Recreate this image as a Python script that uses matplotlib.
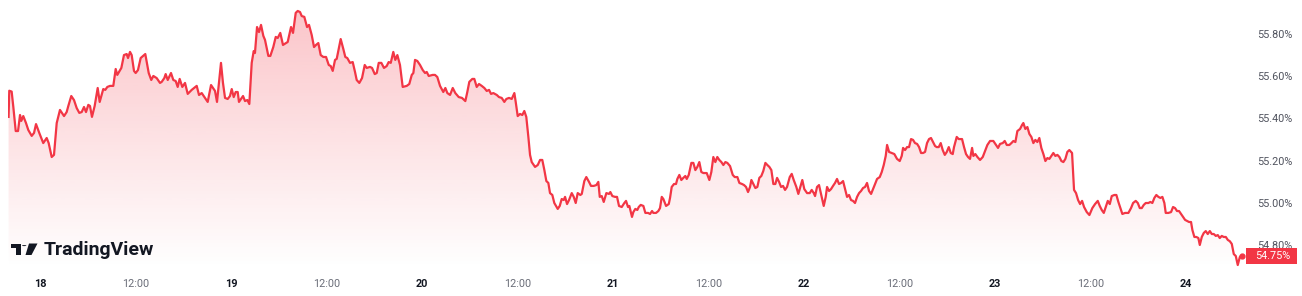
import matplotlib
matplotlib.use("Agg")
import matplotlib.pyplot as plt
import numpy as np
from matplotlib.patches import Polygon, Circle, Rectangle
from matplotlib.colors import to_rgb

# hours since 18th 00:00, yield in percent
seg1_h = [-3.95, -3.86, -3.56, -3.35, -3.05, -2.76, -2.51, -2.35, -2.10, -1.76,
          -1.47, -1.04, -0.75, -0.50, -0.09, 0.41, 0.84, 1.09, 1.47, 1.76,
          2.10, 2.51, 3.02, 3.35, 3.56, 3.93, 4.27, 4.61, 4.94, 5.24,
          5.53, 5.78, 6.07, 6.28, 6.53, 6.87, 7.25, 7.50, 7.95, 8.20,
          8.46, 8.80, 9.21, 9.51, 9.71, 10.22, 10.55, 10.89, 11.06, 11.31,
          11.52, 11.81, 12.02, 12.31, 12.65, 13.23, 13.66, 13.98, 14.24, 14.66, 15.08]
seg1_v = [55.407, 55.531, 55.527, 55.454, 55.340, 55.340, 55.416, 55.388, 55.411, 55.378,
          55.345, 55.317, 55.331, 55.373, 55.331, 55.283, 55.307, 55.283, 55.217, 55.227,
          55.378, 55.440, 55.411, 55.430, 55.459, 55.506, 55.487, 55.449, 55.426, 55.430,
          55.454, 55.430, 55.464, 55.459, 55.407, 55.459, 55.544, 55.478, 55.539, 55.535,
          55.549, 55.554, 55.554, 55.634, 55.606, 55.639, 55.700, 55.705, 55.686, 55.715,
          55.700, 55.625, 55.615, 55.629, 55.686, 55.705, 55.615, 55.582, 55.601, 55.591, 55.568]

seg2_h = [15.29, 15.62, 15.79, 16.05, 16.46, 16.75, 17.05, 17.30, 17.55, 17.88,
          18.22, 18.56, 19.06, 19.69, 19.98, 20.32, 20.73, 21.07, 21.49, 21.99,
          22.24, 22.74, 22.99, 23.25, 23.58, 23.87, 24.09, 24.34, 24.59, 24.84,
          25.00, 25.26, 25.51, 25.76, 26.05, 26.30, 26.60, 26.85, 27.01, 27.27,
          27.52, 27.77, 28.06, 28.27, 28.69, 28.94, 29.31, 29.62, 29.87, 30.19,
          30.53, 31.12, 31.54, 31.79, 32.13, 32.38, 32.67, 32.88, 33.21, 33.55,
          33.80, 34.14, 34.43]
seg2_v = [55.573, 55.591, 55.610, 55.582, 55.615, 55.582, 55.577, 55.549, 55.587, 55.549,
          55.568, 55.516, 55.535, 55.554, 55.511, 55.520, 55.497, 55.478, 55.558, 55.530,
          55.478, 55.663, 55.568, 55.497, 55.492, 55.506, 55.539, 55.501, 55.525, 55.525,
          55.478, 55.492, 55.506, 55.482, 55.487, 55.468, 55.663, 55.719, 55.710, 55.833,
          55.809, 55.843, 55.791, 55.772, 55.696, 55.696, 55.738, 55.786, 55.781, 55.805,
          55.748, 55.762, 55.833, 55.805, 55.900, 55.909, 55.904, 55.885, 55.881, 55.833,
          55.843, 55.795, 55.738]

seg3_h = [34.68, 34.97, 35.27, 35.60, 35.94, 36.28, 36.53, 36.78, 37.07, 37.28,
          37.78, 38.11, 38.36, 38.61, 38.95, 39.29, 39.58, 39.79, 40.12, 40.46,
          40.80, 41.05, 41.46, 41.72, 42.06, 42.31, 42.56, 42.89, 43.22, 43.56,
          43.81, 44.07, 44.39, 44.64, 44.90, 45.23, 45.57, 46.08, 46.40, 46.71,
          46.91, 47.12, 47.41, 47.75, 48.09, 48.38, 48.59, 48.84, 49.34, 49.63,
          49.92, 50.26, 50.67, 50.93, 51.18, 51.52, 51.86, 52.18, 52.61, 53.02,
          53.44, 53.69, 53.94]
seg3_v = [55.748, 55.757, 55.700, 55.691, 55.691, 55.653, 55.648, 55.625, 55.677, 55.682,
          55.776, 55.729, 55.691, 55.686, 55.663, 55.667, 55.620, 55.582, 55.568, 55.591,
          55.653, 55.639, 55.644, 55.639, 55.610, 55.615, 55.663, 55.663, 55.639, 55.648,
          55.667, 55.663, 55.715, 55.677, 55.700, 55.653, 55.549, 55.554, 55.563, 55.606,
          55.615, 55.677, 55.672, 55.653, 55.629, 55.615, 55.620, 55.601, 55.606, 55.606,
          55.596, 55.554, 55.525, 55.544, 55.520, 55.511, 55.544, 55.520, 55.501, 55.497,
          55.482, 55.525, 55.573]

seg4_h = [54.32, 54.57, 54.87, 55.16, 55.50, 55.83, 56.13, 56.42, 56.67, 56.96,
          57.39, 57.67, 58.01, 58.34, 58.59, 58.93, 59.27, 59.60, 59.77, 60.02,
          60.31, 60.60, 60.85, 61.10, 61.36, 61.57, 61.78, 62.20, 62.54, 62.83,
          63.11, 63.37, 63.62, 63.87, 64.08, 64.37, 64.62, 65.05, 65.30, 65.55,
          65.80, 65.97, 66.22, 66.47, 66.81, 67.06, 67.31, 67.56, 67.89, 68.07,
          68.39, 68.64, 68.98, 69.23, 69.57, 69.90, 70.15, 70.33, 70.58, 70.83,
          71.16, 71.49, 71.66, 71.91, 72.25, 72.50, 72.75, 73.09, 73.42]
seg4_v = [55.587, 55.587, 55.549, 55.563, 55.554, 55.544, 55.530, 55.535, 55.516, 55.520,
          55.511, 55.501, 55.497, 55.478, 55.492, 55.497, 55.492, 55.520, 55.478, 55.411,
          55.421, 55.416, 55.435, 55.407, 55.312, 55.227, 55.193, 55.170, 55.179, 55.203,
          55.203, 55.155, 55.103, 55.094, 55.046, 55.037, 54.999, 54.971, 54.985, 55.018,
          55.013, 55.028, 54.994, 55.013, 55.046, 55.028, 54.999, 55.046, 55.037, 55.042,
          55.103, 55.122, 55.099, 55.080, 55.080, 55.084, 55.099, 55.028, 55.032, 55.004,
          55.046, 55.042, 55.051, 55.032, 55.028, 55.028, 54.985, 54.980, 54.999]

seg5_h = [73.63, 73.88, 74.05, 74.38, 74.55, 74.80, 75.05, 75.23, 75.48, 75.81,
          76.06, 76.40, 76.65, 76.90, 77.06, 77.40, 77.69, 77.90, 78.12, 78.32,
          78.66, 79.00, 79.16, 79.37, 79.66, 79.91, 80.08, 80.33, 80.58, 80.83,
          81.08, 81.26, 81.51, 81.84, 82.09, 82.34, 82.59, 82.84, 83.09, 83.35,
          83.77, 84.10, 84.35, 84.60, 84.85, 85.10, 85.35, 85.61, 85.86, 86.11,
          86.36, 86.70, 87.04, 87.29, 87.62, 87.87, 88.21, 88.46, 88.71, 88.96,
          89.21, 89.38, 89.63, 89.88, 90.13, 90.38, 90.63, 90.88, 91.14, 91.39,
          91.64, 91.89, 92.14, 92.39]
seg5_v = [55.009, 54.980, 54.985, 54.933, 54.956, 54.971, 54.966, 54.980, 54.990, 54.985,
          54.952, 54.952, 54.947, 54.961, 54.952, 54.952, 54.961, 54.975, 55.028, 55.018,
          54.985, 54.994, 55.023, 55.075, 55.089, 55.089, 55.113, 55.132, 55.108, 55.118,
          55.127, 55.113, 55.132, 55.189, 55.189, 55.155, 55.170, 55.193, 55.146, 55.141,
          55.141, 55.108, 55.146, 55.217, 55.193, 55.217, 55.203, 55.193, 55.179, 55.193,
          55.189, 55.174, 55.132, 55.122, 55.122, 55.094, 55.089, 55.084, 55.075, 55.051,
          55.075, 55.108, 55.089, 55.070, 55.075, 55.118, 55.127, 55.151, 55.189, 55.179,
          55.170, 55.155, 55.089, 55.089]

seg6_h = [92.61, 92.86, 93.11, 93.36, 93.61, 93.86, 94.20, 94.45, 94.70, 95.03,
          95.28, 95.53, 95.78, 96.03, 96.38, 96.71, 96.96, 97.22, 97.38, 97.63,
          97.88, 98.22, 98.47, 98.72, 98.89, 99.14, 99.39, 99.64, 99.89, 100.14,
          100.39, 100.65, 100.90, 101.15, 101.40, 101.65, 101.90, 102.15, 102.40, 102.66,
          102.91, 103.16, 103.41, 103.66, 103.91, 104.16, 104.42, 104.67, 104.92, 105.17,
          105.51, 105.76, 106.01, 106.26, 106.43, 106.68, 107.02, 107.34, 107.68, 108.02,
          108.27, 108.44, 108.69, 108.94, 109.19, 109.44, 109.69, 109.94, 110.20, 110.45,
          110.70, 110.95, 111.20, 111.45, 111.70, 111.95, 112.21, 112.46]
seg6_v = [55.118, 55.099, 55.075, 55.080, 55.061, 55.075, 55.122, 55.137, 55.108, 55.075,
          55.042, 55.075, 55.108, 55.065, 55.046, 55.046, 55.061, 55.046, 55.032, 55.075,
          55.084, 55.028, 54.985, 55.028, 55.075, 55.056, 55.065, 55.080, 55.094, 55.113,
          55.089, 55.094, 55.103, 55.065, 55.028, 55.037, 55.013, 55.009, 54.999, 55.028,
          55.046, 55.056, 55.070, 55.075, 55.094, 55.056, 55.042, 55.065, 55.089, 55.113,
          55.122, 55.146, 55.179, 55.222, 55.274, 55.241, 55.236, 55.231, 55.208, 55.198,
          55.222, 55.260, 55.250, 55.264, 55.264, 55.302, 55.298, 55.283, 55.279, 55.264,
          55.236, 55.236, 55.241, 55.283, 55.302, 55.307, 55.288, 55.269]

seg7_h = [112.67, 112.92, 113.17, 113.42, 113.68, 113.93, 114.18, 114.43, 114.68, 114.84,
          115.18, 115.43, 115.85, 116.10, 116.35, 116.60, 116.85, 117.11, 117.27, 117.52,
          117.78, 118.11, 118.45, 118.70, 119.03, 119.37, 119.78, 120.12, 120.37, 120.62,
          120.96, 121.21, 121.47, 121.79, 122.05, 122.30, 122.55, 122.80, 123.14, 123.39,
          123.55, 123.80, 124.06, 124.31, 124.56, 124.81, 125.06, 125.31, 125.56, 125.81,
          126.07, 126.32, 126.57, 126.82, 127.07, 127.32, 127.57, 127.83, 128.08, 128.33,
          128.58, 128.83, 129.08, 129.33, 129.67, 129.92, 130.17, 130.43, 130.68, 130.93,
          131.18, 131.52, 131.85]
seg7_v = [55.264, 55.264, 55.283, 55.250, 55.227, 55.241, 55.264, 55.236, 55.231, 55.264,
          55.312, 55.302, 55.302, 55.264, 55.231, 55.217, 55.208, 55.260, 55.222, 55.231,
          55.217, 55.203, 55.217, 55.241, 55.274, 55.293, 55.293, 55.274, 55.260, 55.279,
          55.283, 55.293, 55.274, 55.274, 55.283, 55.293, 55.288, 55.340, 55.350, 55.369,
          55.378, 55.350, 55.359, 55.326, 55.312, 55.283, 55.298, 55.288, 55.307, 55.260,
          55.231, 55.198, 55.212, 55.208, 55.222, 55.236, 55.222, 55.227, 55.217, 55.198,
          55.193, 55.208, 55.241, 55.250, 55.236, 55.061, 55.046, 55.013, 54.994, 55.009,
          54.980, 54.956, 54.942]

seg8_h = [132.22, 132.56, 132.90, 133.15, 133.40, 133.66, 133.91, 134.16, 134.41, 134.66,
          134.99, 135.24, 135.49, 135.74, 135.99, 136.33, 136.75, 137.08, 137.34, 137.67,
          137.93, 138.18, 138.43, 138.68, 138.93, 139.26, 139.51, 139.76, 140.01, 140.26,
          140.52, 140.77, 141.02, 141.27, 141.44, 141.77, 142.11, 142.36, 142.61, 142.86,
          143.11, 143.37, 143.62, 143.87, 144.12, 144.37, 144.62, 144.79, 145.04, 145.29,
          145.54, 145.72, 145.97, 146.22, 146.47, 146.72, 146.98, 147.23, 147.48, 147.73,
          147.98, 148.23, 148.48, 148.73, 148.99, 149.24, 149.49, 149.74, 149.99, 150.24,
          150.49, 150.75, 151.00]
seg8_v = [54.975, 54.994, 55.009, 54.985, 54.966, 54.952, 54.980, 55.009, 54.994, 55.032,
          55.037, 55.037, 55.004, 54.975, 54.947, 54.952, 54.952, 54.975, 54.999, 55.009,
          54.999, 54.975, 54.975, 54.990, 54.999, 54.999, 55.004, 54.999, 55.023, 55.037,
          55.028, 55.023, 55.028, 54.999, 54.952, 54.952, 54.956, 54.980, 54.975, 54.961,
          54.961, 54.947, 54.933, 54.919, 54.914, 54.909, 54.909, 54.871, 54.838, 54.838,
          54.833, 54.800, 54.838, 54.857, 54.866, 54.852, 54.866, 54.852, 54.852, 54.843,
          54.847, 54.833, 54.843, 54.838, 54.838, 54.824, 54.818, 54.805, 54.757, 54.748,
          54.705, 54.743, 54.750]

tick_hours = [0, 12, 24, 36, 48, 60, 72, 84, 96, 108, 120, 132, 144]
tick_labels = ["18", "12:00", "19", "12:00", "20", "12:00", "21", "12:00",
               "22", "12:00", "23", "12:00", "24"]
y_ticks = [54.8, 55.0, 55.2, 55.4, 55.6, 55.8]
last_value = 54.75

hours = np.array(seg1_h + seg2_h + seg3_h + seg4_h + seg5_h + seg6_h + seg7_h + seg8_h)
rate = np.array(seg1_v + seg2_v + seg3_v + seg4_v + seg5_v + seg6_v + seg7_v + seg8_v)

RED = "#F23645"
W, H = 1302, 296
plt.rcParams["font.family"] = ["Roboto", "DejaVu Sans"]

fig = plt.figure(figsize=(W / 100, H / 100), dpi=100)
ax_w = 1245 - 8
ax_h = H - 28
ax = fig.add_axes([8 / W, 28 / H, ax_w / W, ax_h / H])
x0, x1 = -4.02, 151.4
y0, y1 = 54.691, 55.961

# gradient fill under the line
rgba = np.zeros((256, 1, 4))
rgba[..., :3] = to_rgb(RED)
rgba[..., 3] = np.linspace(0.30, 0.0, 256)[:, None]
im = ax.imshow(rgba, aspect="auto", extent=[x0, x1, y0, y1], origin="upper", zorder=1)
verts = np.column_stack([np.r_[hours[0], hours, hours[-1]], np.r_[y0, rate, y0]])
clip = Polygon(verts, closed=True, facecolor="none", edgecolor="none")
ax.add_patch(clip)
im.set_clip_path(clip)

ax.plot(hours, rate, color=RED, lw=1.6, zorder=3, solid_joinstyle="round")
ax.plot(hours[-1], rate[-1], "o", ms=3.5, color=RED, zorder=4)

ax.set_xlim(x0, x1)
ax.set_ylim(y0, y1)
for s in ax.spines.values():
    s.set_visible(False)

ax.set_xticks(tick_hours)
ax.set_xticklabels(tick_labels)
ax.tick_params(axis="x", length=0, pad=8, labelsize=7.8)
for lab in ax.get_xticklabels():
    if ":" in lab.get_text():
        lab.set_color("#6a6d78")
    else:
        lab.set_color("#131722")
        lab.set_fontweight("bold")

ax.yaxis.tick_right()
ax.set_yticks(y_ticks)
ax.set_yticklabels([f"{v:.2f}%" for v in y_ticks])
ax.tick_params(axis="y", length=0, pad=9, labelsize=7.8, labelcolor="#50535e")

# last price tag
tag_h = 16 * (y1 - y0) / ax_h
ytrans = ax.get_yaxis_transform()
ax.add_patch(Rectangle((1 + 1 / ax_w, last_value - tag_h / 2), 51 / ax_w, tag_h,
                       transform=ytrans, facecolor=RED, edgecolor="none",
                       clip_on=False, zorder=5))
ax.text(1 + 10 / ax_w, last_value, f"{last_value:.2f}%", transform=ytrans,
        ha="left", va="center", fontsize=7.8, color="white", zorder=6, clip_on=False)

# watermark logo + text
def px(x, y):
    return (x / W, 1 - y / H)

logo = dict(transform=fig.transFigure, facecolor="#131722", edgecolor="none")
fig.patches.append(Polygon([px(11, 243.5), px(21, 243.5), px(21, 255), px(16, 255),
                            px(16, 247.5), px(11, 247.5)], closed=True, **logo))
fig.patches.append(Circle(px(24.2, 245.6), 2.2 / W, **logo))
fig.patches.append(Polygon([px(29, 243.5), px(37.5, 243.5), px(31.5, 255), px(25.5, 255)],
                           closed=True, **logo))
fig.text(44 / W, 1 - 255 / H, "TradingView", fontsize=14, fontweight="semibold",
         color="#131722", va="baseline", ha="left")

fig.savefig("out.png", dpi=100, facecolor="white")
